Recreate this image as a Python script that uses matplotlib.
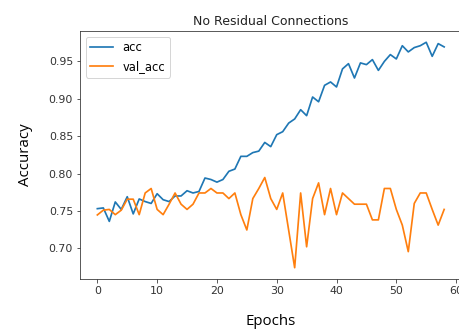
import matplotlib
matplotlib.use("Agg")
import matplotlib.pyplot as plt

epochs = list(range(59))
acc = [0.753, 0.754, 0.736, 0.762, 0.752, 0.769, 0.746, 0.766, 0.7625, 0.760,
       0.773, 0.765, 0.7625, 0.770, 0.770, 0.777, 0.774, 0.776, 0.794, 0.792,
       0.7885, 0.792, 0.803, 0.806, 0.823, 0.823, 0.828, 0.830, 0.8416, 0.836,
       0.852, 0.856, 0.8675, 0.873, 0.8854, 0.8774, 0.9024, 0.896, 0.918, 0.9225,
       0.9158, 0.940, 0.947, 0.9278, 0.948, 0.9457, 0.9524, 0.938, 0.950, 0.9591,
       0.9533, 0.971, 0.9627, 0.9685, 0.971, 0.9756, 0.9568, 0.9738, 0.9694]
val_acc = [0.7446, 0.751, 0.752, 0.745, 0.751, 0.7657, 0.7657, 0.745, 0.774, 0.780,
           0.752, 0.745, 0.759, 0.774, 0.759, 0.752, 0.759, 0.774, 0.774, 0.780,
           0.774, 0.774, 0.7665, 0.774, 0.745, 0.7245, 0.7665, 0.780, 0.7947, 0.7665,
           0.752, 0.774, 0.724, 0.674, 0.774, 0.702, 0.7665, 0.7875, 0.745, 0.780,
           0.745, 0.774, 0.7665, 0.759, 0.759, 0.759, 0.738, 0.738, 0.780, 0.780,
           0.752, 0.731, 0.6955, 0.760, 0.774, 0.774, 0.752, 0.731, 0.752]

title = "No Residual Connections"
xlabel = "Epochs"
ylabel = "Accuracy"

fig = plt.figure(figsize=(459 / 72, 331 / 72), dpi=72)
ax = fig.add_axes([80 / 459, 52 / 331, 381.5 / 459, 248 / 331])
ax.plot(epochs, acc, color="#1f77b4", lw=1.7, label="acc")
ax.plot(epochs, val_acc, color="#ff7f0e", lw=1.7, label="val_acc")
ax.set_title(title, fontsize=12.5, color="#222222")
ax.set_xlabel(xlabel, fontsize=15, family="Open Sans", labelpad=18)
ax.set_ylabel(ylabel, fontsize=15, family="Open Sans", labelpad=16)
ax.tick_params(labelsize=11, colors="#333333")
ax.set_xticks([0, 10, 20, 30, 40, 50, 60])
ax.set_yticks([0.70, 0.75, 0.80, 0.85, 0.90, 0.95])
ax.legend(loc="upper left", fontsize=11.5)
for s in ax.spines.values():
    s.set_color("#333333")
fig.savefig("out.png", dpi=72)
